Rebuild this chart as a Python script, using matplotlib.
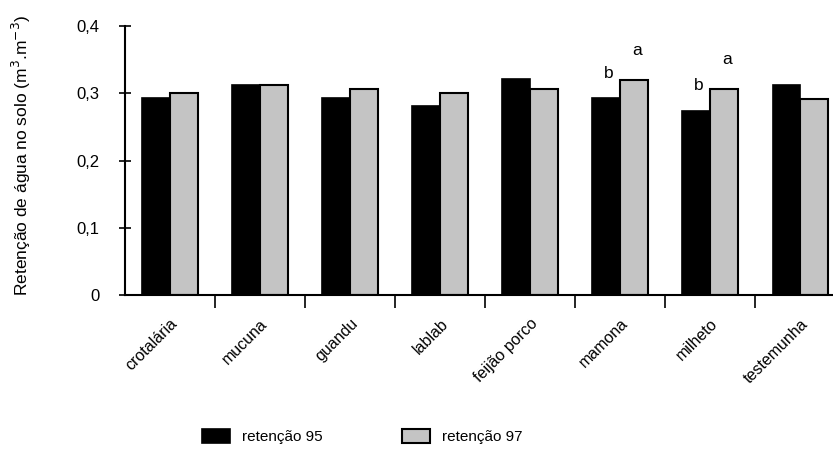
import matplotlib
matplotlib.use('Agg')
import matplotlib.pyplot as plt
import numpy as np

plt.rcParams['font.family'] = ['Liberation Sans', 'DejaVu Sans']

culturas = ['crotalária', 'mucuna', 'guandu', 'lablab', 'feijão porco',
            'mamona', 'milheto', 'testemunha']
ret_95 = [0.293, 0.313, 0.293, 0.281, 0.321, 0.293, 0.274, 0.313]
ret_97 = [0.301, 0.312, 0.307, 0.301, 0.307, 0.320, 0.307, 0.291]
# letras de comparacao de medias (indice da cultura, serie, letra)
letras = [(5, 0, 'b'), (5, 1, 'a'), (6, 0, 'b'), (6, 1, 'a')]

fig = plt.figure(figsize=(8.33, 4.5), dpi=100)
ax = fig.add_axes([0.150, 0.344, 0.865, 0.598])

x = np.arange(len(culturas))
w = 0.31
b95 = ax.bar(x - w / 2, ret_95, w, color='black', edgecolor='black',
             linewidth=1.2, label='retenção 95')
b97 = ax.bar(x + w / 2, ret_97, w, color='#c4c4c4', edgecolor='black',
             linewidth=1.5, label='retenção 97')

for i, s, txt in letras:
    val = ret_95[i] if s == 0 else ret_97[i]
    dx = -w / 2 if s == 0 else w / 2
    dy = 18 if s == 0 else 21
    ax.annotate(txt, (x[i] + dx, val), xytext=(2, dy),
                textcoords='offset points', ha='center', va='center',
                fontsize=12.5)

ax.set_xlim(-0.5, len(culturas) - 0.5)
ax.set_ylim(0, 0.4)
ax.set_yticks([0, 0.1, 0.2, 0.3, 0.4])
ax.set_yticklabels(['0', '0,1', '0,2', '0,3', '0,4'], fontsize=12)
ax.tick_params(axis='y', direction='inout', length=9, width=1.2, pad=14)

# marcas nas divisas entre culturas, rotulos no centro de cada grupo
ax.set_xticks(np.arange(0.5, len(culturas) - 0.5, 1))
ax.set_xticklabels([])
ax.tick_params(axis='x', which='major', direction='out', length=9, width=1.2)
ax.set_xticks(x, minor=True)
ax.set_xticklabels(culturas, minor=True, rotation=45, ha='right',
                   rotation_mode='anchor', fontsize=11.5)
ax.tick_params(axis='x', which='minor', length=0, pad=15)

for sp in ['top', 'right']:
    ax.spines[sp].set_visible(False)
for sp in ['left', 'bottom']:
    ax.spines[sp].set_linewidth(1.5)

ax.set_ylabel('Retenção de água no solo (m$^3$.m$^{-3}$)', fontsize=12.5,
              labelpad=22)
ax.yaxis.set_label_coords(-0.128, 0.52)

fig.legend(handles=[b95, b97], loc='lower center',
           bbox_to_anchor=(0.435, -0.018), ncol=2, frameon=False, fontsize=11,
           handlelength=1.8, handleheight=1.0, columnspacing=5.2)

fig.savefig('out.png', dpi=100)
